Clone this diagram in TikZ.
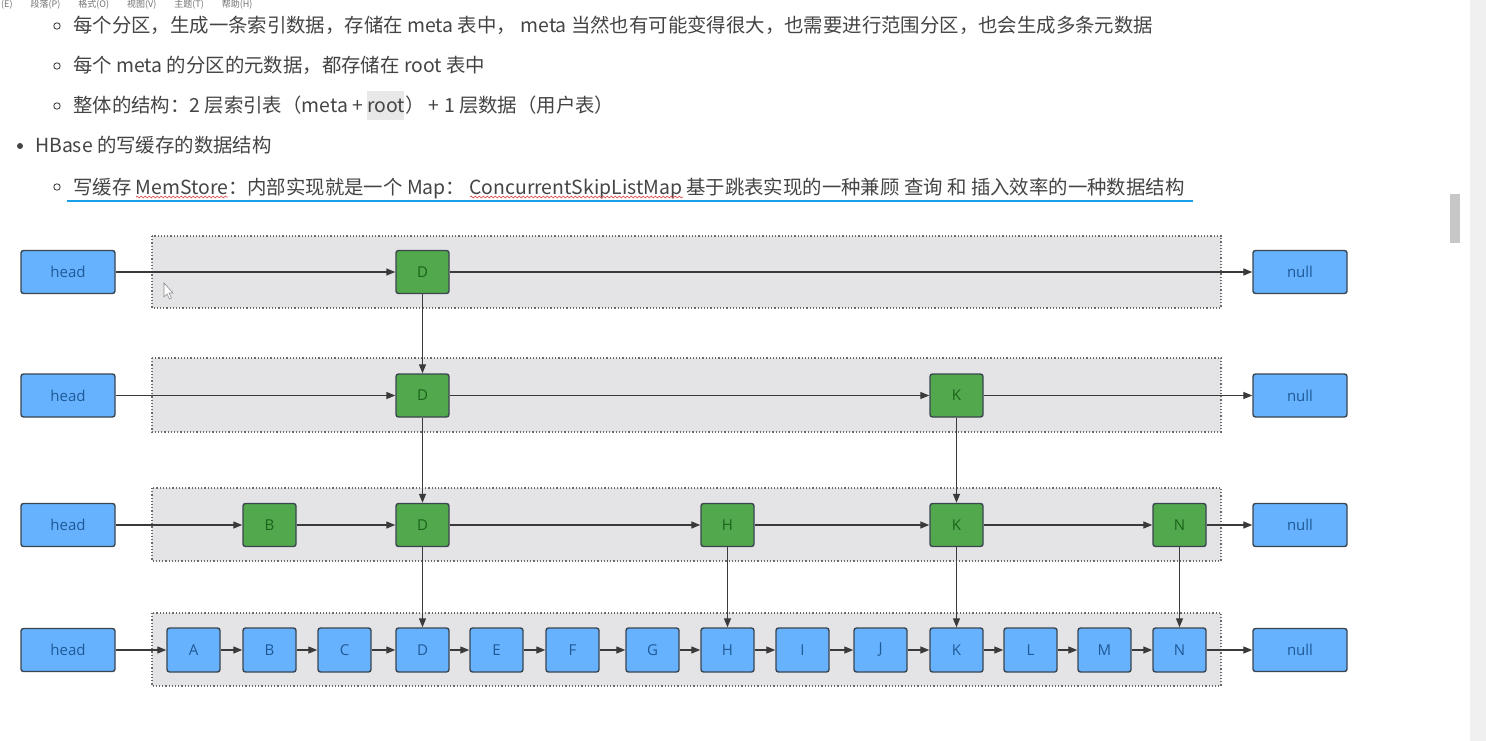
\documentclass[tikz,border=0pt]{standalone}
\usepackage{fontspec}
\setmainfont{Noto Sans CJK SC}
\newfontfamily\boxfont{Open Sans}
\usetikzlibrary{arrows.meta,decorations.pathmorphing}
\definecolor{txtgray}{HTML}{444444}
\definecolor{bluefill}{HTML}{66B2FF}
\definecolor{bluetxt}{HTML}{1F5A96}
\definecolor{greenfill}{HTML}{52A84C}
\definecolor{greentxt}{HTML}{1B641B}
\definecolor{boxline}{HTML}{3A4550}
\definecolor{regfill}{HTML}{E4E4E6}
\definecolor{regline}{HTML}{6A6A6A}
\definecolor{arrowc}{HTML}{3A3A3A}
\definecolor{ulblue}{HTML}{1AA0E6}
\definecolor{wavyred}{HTML}{E05050}
\tikzset{
  maintext/.style={anchor=base west, inner sep=0pt, text=txtgray, font=\fontsize{19.4}{21}\selectfont},
  bluebox/.style={draw=boxline, line width=1.4pt, fill=bluefill, rounded corners=2.5pt, text=bluetxt, font=\boxfont\fontsize{15}{16}\selectfont, inner sep=0pt},
  headbox/.style={bluebox, minimum width=94pt, minimum height=43pt},
  itembox/.style={bluebox, minimum width=53pt, minimum height=44pt},
  greenbox/.style={draw=boxline, line width=1.4pt, fill=greenfill, rounded corners=2.5pt, text=greentxt, font=\boxfont\fontsize{15}{16}\selectfont, inner sep=0pt, minimum width=53pt, minimum height=43pt},
  region/.style={draw=regline, fill=regfill, line width=1.2pt, dash pattern=on 1.2pt off 2pt},
  link/.style={draw=arrowc, line width=1.3pt, -{Triangle[length=9pt,width=7pt]}},
  wavy/.style={draw=wavyred, line width=0.7pt, decorate, decoration={snake, amplitude=0.9pt, segment length=4pt}}
}
\begin{document}
\begin{tikzpicture}[x=1pt,y=-1pt]
\useasboundingbox (0,0) rectangle (1486,741);
\fill[white] (0,0) rectangle (1486,741);
% scrollbar
\fill[black!6] (1470,0) rectangle (1486,741);
\fill[black!22] (1450,194) rectangle (1460,243);
% menu bar
\node[anchor=base west, inner sep=0pt, text=black!55, font=\fontsize{9}{10}\selectfont] (menu) at (1,7.5) {(E)\hspace{18pt}段落(P)\hspace{18pt}格式(O)\hspace{18pt}视图(V)\hspace{18pt}主题(T)\hspace{18pt}帮助(H)};
% bullets
\draw[txtgray, line width=0.9pt] (57,26) circle (3.2pt);
\draw[txtgray, line width=0.9pt] (57,66) circle (3.2pt);
\draw[txtgray, line width=0.9pt] (57,106) circle (3.2pt);
\fill[txtgray] (20,146) circle (3pt);
\draw[txtgray, line width=0.9pt] (57,187) circle (3.2pt);
\fill[black!9] (367,91) rectangle (404,120);
\node[maintext] (t1) at (73,33) {每个分区，生成一条索引数据，存储在 meta 表中， meta 当然也有可能变得很大，也需要进行范围分区，也会生成多条元数据};
\node[maintext] (t2) at (73,73) {每个 meta 的分区的元数据，都存储在 root 表中};
\node[maintext] (t3) at (73,113) {整体的结构：2 层索引表（meta + root） + 1 层数据（用户表）};
\node[maintext] (t4) at (35,153) {HBase 的写缓存的数据结构};
\node[maintext] (t5) at (73,194) {写缓存 MemStore：内部实现就是一个 Map： ConcurrentSkipListMap 基于跳表实现的一种兼顾 查询 和 插入效率的一种数据结构};
\draw[ulblue, line width=2pt] (67,200.5) -- (1193,200.5);
\draw[wavy] (136,197) -- (228,197);
\draw[wavy] (470,197) -- (683,197);
% regions
\path[region] (152,236) rectangle (1221,308);
\path[region] (152,358) rectangle (1221,432);
\path[region] (152,488) rectangle (1221,561);
\path[region] (152,613) rectangle (1221,686);
% cursor
\draw[black!45, fill=white, line width=0.6pt] (164,283) -- (164,297) -- (167,294) -- (169.5,299) -- (171.5,298) -- (169,293) -- (173,293) -- cycle;
% row 1
\node[headbox] (h1) at (68,272) {head};
\node[greenbox] (r1D) at (422.5,272) {D};
\node[headbox] (n1) at (1300,272) {null};
% row 2
\node[headbox] (h2) at (68,395.5) {head};
\node[greenbox] (r2D) at (422.5,395.5) {D};
\node[greenbox] (r2K) at (956.5,395.5) {K};
\node[headbox] (n2) at (1300,395.5) {null};
% row 3
\node[headbox] (h3) at (68,525) {head};
\node[greenbox] (r3B) at (269.5,525) {B};
\node[greenbox] (r3D) at (422.5,525) {D};
\node[greenbox] (r3H) at (727.5,525) {H};
\node[greenbox] (r3K) at (956.5,525) {K};
\node[greenbox] (r3N) at (1179.5,525) {N};
\node[headbox] (n3) at (1300,525) {null};
% row 4
\node[headbox] (h4) at (68,650) {head};
\foreach \n/\x in {A/193.5,B/269.5,C/344.5,D/422.5,E/496.5,F/572.5,G/652.5,H/727.5,I/802.5,J/880.5,K/956.5,L/1030.5,M/1104.5,N/1179.5}
  \node[itembox] (r4\n) at (\x,650) {\n};
\node[headbox] (n4) at (1300,650) {null};
% horizontal links
\draw[link] (h1) -- (r1D);
\draw[link] (r1D) -- (n1);
\draw[link] (h2) -- (r2D);
\draw[link] (r2D) -- (r2K);
\draw[link] (r2K) -- (n2);
\draw[link] (h3) -- (r3B);
\draw[link] (r3B) -- (r3D);
\draw[link] (r3D) -- (r3H);
\draw[link] (r3H) -- (r3K);
\draw[link] (r3K) -- (r3N);
\draw[link] (r3N) -- (n3);
\draw[link] (h4) -- (r4A);
\draw[link] (r4A) -- (r4B);
\draw[link] (r4B) -- (r4C);
\draw[link] (r4C) -- (r4D);
\draw[link] (r4D) -- (r4E);
\draw[link] (r4E) -- (r4F);
\draw[link] (r4F) -- (r4G);
\draw[link] (r4G) -- (r4H);
\draw[link] (r4H) -- (r4I);
\draw[link] (r4I) -- (r4J);
\draw[link] (r4J) -- (r4K);
\draw[link] (r4K) -- (r4L);
\draw[link] (r4L) -- (r4M);
\draw[link] (r4M) -- (r4N);
\draw[link] (r4N) -- (n4);
% vertical links
\draw[link] (r1D) -- (r2D);
\draw[link] (r2D) -- (r3D);
\draw[link] (r3D) -- (r4D);
\draw[link] (r2K) -- (r3K);
\draw[link] (r3K) -- (r4K);
\draw[link] (r3H) -- (r4H);
\draw[link] (r3N) -- (r4N);
\end{tikzpicture}
\end{document}
